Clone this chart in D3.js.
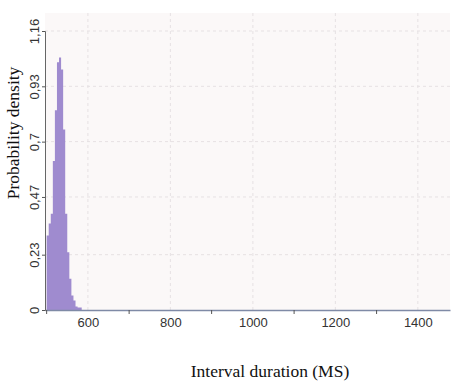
<!DOCTYPE html>
<html><head><meta charset="utf-8">
<script src="https://cdn.jsdelivr.net/npm/d3@7"></script>
<style>body{margin:0;background:#fff}svg{display:block}</style>
</head><body><svg id="c" width="471" height="390"></svg>
<script>
// Histogram bins (ms): start of each 5-ms bin
const binStarts = [500,505,510,515,520,525,530,535,540,545,550,555,560,565,570,575,580];
const density   = [0.31,0.36,0.40,0.62,0.83,1.03,1.05,1.00,0.75,0.40,0.24,0.13,0.06,0.04,0.015,0.01,0.01];
const binWidth = 5;
const xTicks = [600,800,1000,1200,1400];
const xMinorTicks = [500,700,900,1100,1300];
const yTicks = [0,0.23,0.47,0.7,0.93,1.16];
const yTickLabels = ["0","0,23","0,47","0,7","0,93","1,16"];

const svg = d3.select("#c");
const L=45, R=450, T=13, B=310;
const x = d3.scaleLinear().domain([496,1478]).range([L,R]);
const y = d3.scaleLinear().domain([0,1.16]).range([B,31]);

svg.append("rect").attr("x",L).attr("y",T).attr("width",R-L).attr("height",B-T).attr("fill","#fbf8f8");

// faint grid
const g = svg.append("g").attr("stroke","#e6e1e3").attr("stroke-width",1).attr("stroke-dasharray","3,3");
yTicks.slice(1).forEach(v=>g.append("line").attr("x1",L).attr("x2",R).attr("y1",y(v)).attr("y2",y(v)));
xTicks.forEach(v=>g.append("line").attr("x1",x(v)).attr("x2",x(v)).attr("y1",T).attr("y2",B));

// bars as a stepped area built from the bins
const pts = binStarts.map((d,i)=>[d,density[i]]).concat([[binStarts[binStarts.length-1]+binWidth,0]]);
svg.append("path").datum(pts)
  .attr("d",d3.area().curve(d3.curveStepAfter).x(d=>x(d[0])).y0(B).y1(d=>y(d[1])))
  .attr("fill","#9f8bcf");

// x axis
const xa = svg.append("g").attr("transform",`translate(0,${B})`)
  .call(d3.axisBottom(x).tickValues(xTicks).tickSize(0).tickPadding(8).tickFormat(d3.format("d")));
xa.select(".domain").attr("stroke","#7f8aa6").attr("stroke-width",1.5);
xa.selectAll("text").attr("font-family","Liberation Sans, Arial, sans-serif").attr("font-size",13).attr("fill","#333");
svg.append("g").selectAll("line").data(xMinorTicks).join("line")
  .attr("x1",d=>x(d)).attr("x2",d=>x(d)).attr("y1",B).attr("y2",B+4).attr("stroke","#555");

// y axis
const ya = svg.append("g").attr("transform",`translate(${L},0)`)
  .call(d3.axisLeft(y).tickValues(yTicks).tickSize(3).tickFormat((d,i)=>yTickLabels[i]));
ya.select(".domain").attr("stroke","#666").attr("stroke-width",1);
ya.selectAll(".tick line").attr("stroke","#555");
ya.selectAll(".tick text").attr("font-family","Liberation Sans, Arial, sans-serif").attr("font-size",13).attr("fill","#333")
  .attr("text-anchor","middle").attr("x",0).attr("y",0).attr("dy","0")
  .attr("transform","translate(-6,0) rotate(-90)");

svg.append("text").attr("transform","translate(19,133) rotate(-90)").attr("text-anchor","middle")
  .attr("font-family","Liberation Serif, Times New Roman, serif").attr("font-size",17.5).attr("fill","#111")
  .text("Probability density");
svg.append("text").attr("x",270).attr("y",377).attr("text-anchor","middle")
  .attr("font-family","Liberation Serif, Times New Roman, serif").attr("font-size",17.5).attr("fill","#111")
  .text("Interval duration (MS)");
</script></body></html>
